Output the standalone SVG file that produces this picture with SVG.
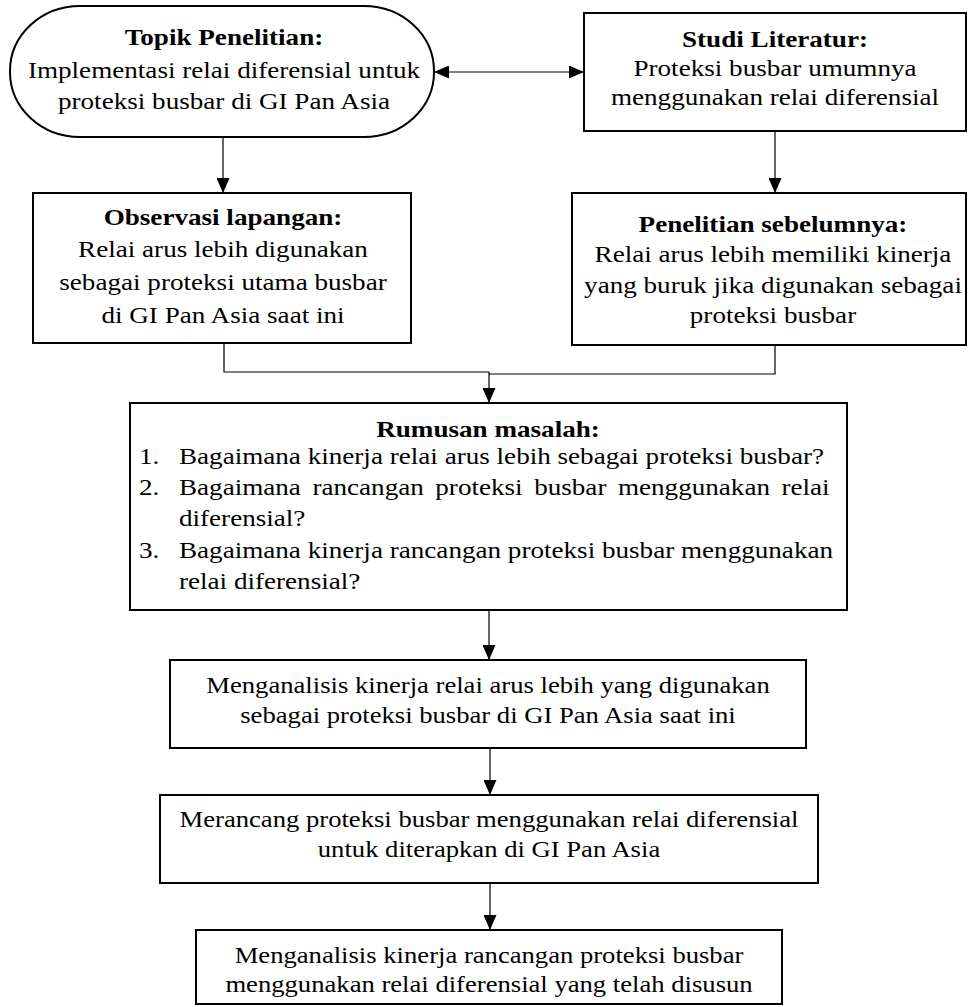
<svg xmlns="http://www.w3.org/2000/svg" width="968" height="1007" viewBox="0 0 968 1007">
<style>
  .box{fill:#fff;stroke:#000;stroke-width:2}
  .ln{fill:none;stroke:#000;stroke-width:1.2}
  text{font-family:"Liberation Serif","Times New Roman",serif;font-size:24px;fill:#000}
  .c{text-anchor:middle}
  .b{font-weight:bold}
</style>
<defs>
  <marker id="ah" markerUnits="userSpaceOnUse" markerWidth="15" markerHeight="13" refX="15" refY="6.5" orient="auto-start-reverse">
    <path d="M0,0 L15,6.5 L0,13 z" fill="#000"/>
  </marker>
</defs>
<rect width="968" height="1007" fill="#fff"/>

<g id="connectors">
  <line class="ln" x1="223" y1="137" x2="223" y2="193" marker-end="url(#ah)"/>
  <line class="ln" x1="775" y1="131" x2="775" y2="193" marker-end="url(#ah)"/>
  <line class="ln" x1="434" y1="72" x2="584" y2="72" marker-start="url(#ah)" marker-end="url(#ah)"/>
  <polyline class="ln" points="224,343 224,372 489,372"/>
  <polyline class="ln" points="775,345 775,374 489,374"/>
  <line class="ln" x1="489" y1="372" x2="489" y2="403" marker-end="url(#ah)"/>
  <line class="ln" x1="489" y1="610" x2="489" y2="660" marker-end="url(#ah)"/>
  <line class="ln" x1="490" y1="748" x2="490" y2="795" marker-end="url(#ah)"/>
  <line class="ln" x1="490" y1="883" x2="490" y2="930" marker-end="url(#ah)"/>
</g>

<g id="topik">
  <rect class="box" x="10" y="6" width="424" height="131" rx="70" ry="65"/>
  <g transform="translate(224,0) scale(1.13,1)">
    <text class="c b" x="0" y="45">Topik Penelitian:</text>
    <text class="c" x="0" y="78">Implementasi relai diferensial untuk</text>
    <text class="c" x="0" y="109">proteksi busbar di GI Pan Asia</text>
  </g>
</g>

<g id="studi">
  <rect class="box" x="584" y="13" width="382" height="118"/>
  <g transform="translate(775,0) scale(1.13,1)">
    <text class="c b" x="0" y="47">Studi Literatur:</text>
    <text class="c" x="0" y="76">Proteksi busbar umumnya</text>
    <text class="c" x="0" y="105">menggunakan relai diferensial</text>
  </g>
</g>

<g id="observasi">
  <rect class="box" x="33" y="193" width="378" height="150"/>
  <g transform="translate(223,0) scale(1.13,1)">
    <text class="c b" x="0" y="225">Observasi lapangan:</text>
    <text class="c" x="0" y="257">Relai arus lebih digunakan</text>
    <text class="c" x="0" y="290">sebagai proteksi utama busbar</text>
    <text class="c" x="0" y="323">di GI Pan Asia saat ini</text>
  </g>
</g>

<g id="penelitian">
  <rect class="box" x="572" y="193" width="394" height="152"/>
  <g transform="translate(773,0) scale(1.13,1)">
    <text class="c b" x="0" y="232">Penelitian sebelumnya:</text>
    <text class="c" x="0" y="262">Relai arus lebih memiliki kinerja</text>
    <text class="c" x="0" y="293">yang buruk jika digunakan sebagai</text>
    <text class="c" x="0" y="323">proteksi busbar</text>
  </g>
</g>

<g id="rumusan">
  <rect class="box" x="130" y="403" width="717" height="207"/>
  <g transform="translate(488,0) scale(1.13,1)">
    <text class="c b" x="0" y="437">Rumusan masalah:</text>
  </g>
  <g transform="scale(1.13,1)">
    <text x="123" y="464">1.</text>
    <text x="158.4" y="464">Bagaimana kinerja relai arus lebih sebagai proteksi busbar?</text>
    <text x="123" y="495">2.</text>
    <text x="158.4" y="495" word-spacing="4.2">Bagaimana rancangan proteksi busbar menggunakan relai</text>
    <text x="158.4" y="526">diferensial?</text>
    <text x="123" y="558">3.</text>
    <text x="158.4" y="558">Bagaimana kinerja rancangan proteksi busbar menggunakan</text>
    <text x="158.4" y="589">relai diferensial?</text>
  </g>
</g>

<g id="analisis1">
  <rect class="box" x="170" y="660" width="636" height="88"/>
  <g transform="translate(488,0) scale(1.11,1)">
    <text class="c" x="0" y="693">Menganalisis kinerja relai arus lebih yang digunakan</text>
    <text class="c" x="0" y="723">sebagai proteksi busbar di GI Pan Asia saat ini</text>
  </g>
</g>

<g id="rancang">
  <rect class="box" x="160" y="795" width="658" height="88"/>
  <g transform="translate(489,0) scale(1.11,1)">
    <text class="c" x="0" y="827">Merancang proteksi busbar menggunakan relai diferensial</text>
    <text class="c" x="0" y="857">untuk diterapkan di GI Pan Asia</text>
  </g>
</g>

<g id="analisis2">
  <rect class="box" x="196" y="930" width="586" height="74"/>
  <g transform="translate(489,0) scale(1.11,1)">
    <text class="c" x="0" y="963">Menganalisis kinerja rancangan proteksi busbar</text>
    <text class="c" x="0" y="992">menggunakan relai diferensial yang telah disusun</text>
  </g>
</g>
</svg>
